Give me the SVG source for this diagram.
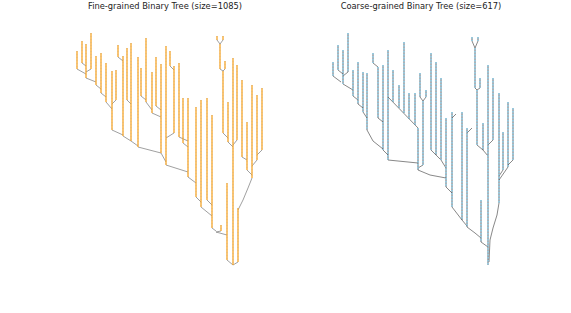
<svg xmlns="http://www.w3.org/2000/svg" xmlns:xlink="http://www.w3.org/1999/xlink" width="571" height="313" viewBox="0 0 571 313">
<style>
.title{font-family:"DejaVu Sans",sans-serif;font-size:8.3px;fill:#222;text-anchor:middle}
</style>
<defs>
<path id="lv" d="M77 51V69 M82 41V63 M91 33V69 M86 44V78 M96 56V85 M101 53V93 M106 63V102 M112 71V130 M116 70V100 M118 45V57 M123 56V136 M127 48V100 M131 43V141 M138 57V147 M141 68V96 M146 38V102 M152 72V113 M156 57V106 M161 64V153 M166 46V165 M170 51V66 M174 66V133 M179 63V137 M183 98V143 M188 98V177 M196 107V197 M201 100V207 M207 98V200 M212 115V228 M221 225V231 M227 183V260 M217 36V40 M223 36V40 M220 44V69 M225 61V69 M223 71V133 M228 102V142 M233 58V265 M237 65V140 M242 80V157 M247 122V170 M252 85V178 M238 208V262 M257 95V160 M262 88V150"/>
<path id="lc" d="M77 69L86 74 M82 63L86 66 M91 69L86 72 M86 78L96 82 M96 85L101 89 M101 93L106 97 M106 102L112 109 M116 100L112 104 M112 130L123 135 M118 57L123 61 M123 136L131 141 M127 100L131 104 M131 141L138 146 M138 147L161 153 M141 96L146 100 M146 102L152 110 M152 113L161 117 M156 106L161 110 M161 153L166 162 M170 66L174 70 M174 133L166 138 M179 137L188 141 M183 143L188 147 M166 165L188 172 M188 177L196 183 M196 197L201 202 M201 207L212 216 M207 200L212 205 M212 228L216 231 M221 231L216 232 M216 232L227 235 M217 40L220 44 M223 40L220 44 M220 69L223 71 M225 69L223 71 M223 133L228 138 M228 142L233 147 M237 140L233 145 M242 157L247 160 M247 170L252 175 M252 178L248 188L243 200L238 210 M227 260L233 265 M238 262L233 265 M257 160L252 166 M262 150L257 155"/>
<path id="rv" d="M333 62V76 M338 45V70 M348 33V72 M343 50V84 M353 70V96 M358 62V104 M363 72V112 M367 73V130 M373 53V63 M378 67V118 M383 65V150 M388 50V160 M393 70V102 M399 85V108 M404 42V113 M409 93V119 M415 93V125 M418 128V170 M420 73V97 M426 90V97 M423 101V165 M431 53V150 M436 62V155 M441 78V160 M446 118V187 M452 112V207 M462 112V220 M467 128V227 M472 37V41 M478 37V41 M475 48V88 M480 78V88 M477 90V145 M483 123V150 M488 65V265 M493 78V140 M499 93V203 M503 132V170 M508 102V167 M513 108V160 M481 200V242"/>
<path id="rc" d="M333 76L341 82 M338 70L343 74 M348 72L343 76 M343 84L353 90 M353 96L358 100 M358 104L363 108 M363 112L367 118 M367 130L373 141L383 149 M373 63L378 67 M378 118L383 122 M383 150L388 155 M388 160L418 163 M388 97L418 128 M420 97L423 101 M426 97L423 101 M423 165L418 168 M418 170L430 175L446 178 M431 150L436 155 M436 155L441 160 M441 160L446 168 M446 187L452 193 M452 207L462 220 M462 220L467 226 M467 227L475 233L481 238 M481 242L488 247 M472 41L475 48 M478 41L475 48 M475 88L477 90 M480 88L477 90 M477 145L483 150 M483 150L488 156 M493 140L488 145 M503 170L499 176 M508 167L499 180 M513 160L508 165 M499 203L497 215L493 228L490 240L489 262 M452 118L456 114 M467 133L472 128"/>
</defs>
<text class="title" x="165" y="9">Fine-grained Binary Tree (size=1085)</text>
<text class="title" x="421" y="9">Coarse-grained Binary Tree (size=617)</text>
<g id="fine-tree" fill="none">
<g id="fine-edges"><use xlink:href="#lc" stroke="#777" stroke-width="0.7"/></g>
<g id="fine-branches">
<use xlink:href="#lv" stroke="#f7a628" stroke-width="1.3"/>
<use xlink:href="#lv" stroke="#999" stroke-width="0.5" stroke-dasharray="1 2" opacity="0.5"/>
</g>
</g>
<g id="coarse-tree" fill="none">
<g id="coarse-edges"><use xlink:href="#rc" stroke="#555" stroke-width="0.7"/></g>
<g id="coarse-branches">
<use xlink:href="#rv" stroke="#4a5560" stroke-width="0.9"/>
<use xlink:href="#rv" stroke="#8fd3ef" stroke-width="1.4" stroke-dasharray="1.5 1.5"/>
</g>
</g>
</svg>
